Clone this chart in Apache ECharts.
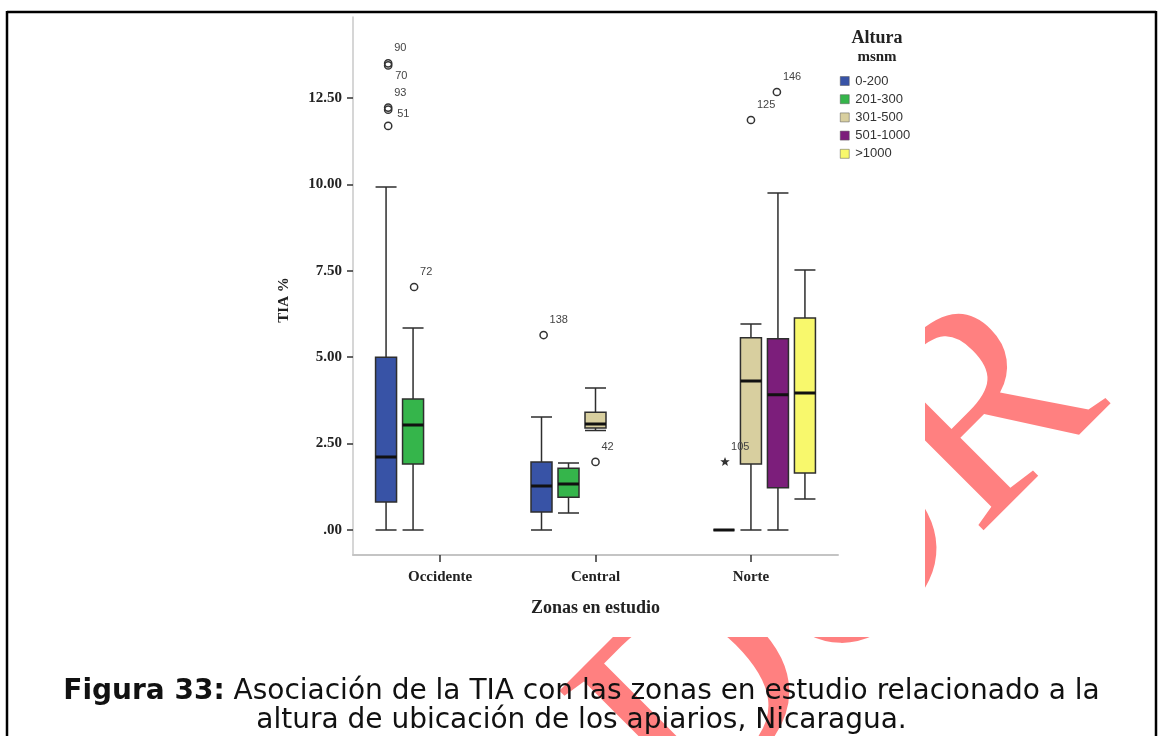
<!DOCTYPE html>
<html>
<head>
<meta charset="utf-8">
<script src="https://cdn.jsdelivr.net/npm/echarts@6/dist/echarts.min.js"></script>
<style>
html,body{margin:0;padding:0;background:#fff;}
#chart{width:1163px;height:736px;}
</style>
</head>
<body>
<div id="chart"></div>
<script>
// ---- data ----
const categories = ['Occidente', 'Central', 'Norte'];
const groupNames = ['0-200', '201-300', '301-500', '501-1000', '>1000'];
// [min, Q1, median, Q3, max] per zone (null = no box)
const box0_200    = [[0, 0.81, 2.11, 5.00, 9.92], [0, 0.52, 1.27, 1.97, 3.27], null];
const box201_300  = [[0, 1.91, 3.04, 3.79, 5.84], [0.49, 0.95, 1.33, 1.79, 1.94], [0, 0, 0, 0, 0]];
const box301_500  = [null, [2.88, 2.95, 3.07, 3.41, 4.11], [0, 1.91, 4.31, 5.56, 5.96]];
const box501_1000 = [null, null, [0, 1.22, 3.91, 5.53, 9.75]];
const box1000     = [null, null, [0.90, 1.65, 3.96, 6.13, 7.52]];
// outliers
const outlierZone  = [0, 0, 0, 0, 0, 0, 1, 1, 2, 2, 2];
const outlierGroup = [0, 0, 0, 0, 0, 1, 0, 2, 1, 2, 3];
const outlierValue = [13.50, 13.44, 12.22, 12.16, 11.69, 7.03, 5.64, 1.97, 1.97, 11.86, 12.67];
const outlierLabel = ['90', '70', '93', '51', '', '72', '138', '42', '105', '125', '146'];
const outlierKind  = ['o', 'o', 'o', 'o', 'o', 'o', 'o', 'o', '*', 'o', 'o'];
const yTicks = [0, 2.5, 5, 7.5, 10, 12.5];
const yTickLabels = ['.00', '2.50', '5.00', '7.50', '10.00', '12.50'];
const zoneTicks = [0, 1, 2];

// ---- styling ----
const colors = ['#3853a6', '#35b54b', '#d8cf9f', '#7c1e7b', '#f8f86c'];
const allBoxes = [box0_200, box201_300, box301_500, box501_1000, box1000];
const serif = '"Liberation Serif", "DejaVu Serif", serif';
const sans = '"Liberation Sans", Arial, sans-serif';
const labelPlace = { '70': 'below', '51': 'right' };

function toItems(arr, pick) {
  const out = [];
  arr.forEach((b, i) => { if (b) out.push([i].concat(pick ? pick(b) : b)); });
  return out;
}

const series = [];
allBoxes.forEach((arr, k) => {
  series.push({
    name: groupNames[k],
    type: 'boxplot',
    xAxisIndex: 0, yAxisIndex: 0,
    boxWidth: [21, 21],
    data: toItems(arr),
    itemStyle: { color: colors[k], borderColor: '#2e2e2e', borderWidth: 1.5 },
    emphasis: { disabled: true },
    z: 2
  });
});
// median overlays (thick black median lines) on a twin axis so slot layout is identical
allBoxes.forEach((arr, k) => {
  series.push({
    name: 'med' + k,
    type: 'boxplot',
    xAxisIndex: 1, yAxisIndex: 0,
    boxWidth: [21, 21],
    data: toItems(arr, b => [b[2], b[2], b[2], b[2], b[2]]),
    itemStyle: { color: 'rgba(0,0,0,0)', borderColor: '#111', borderWidth: 3 },
    emphasis: { disabled: true },
    z: 3
  });
});
// outliers, positioned in the same slot as their box
const outlierData = outlierValue.map((v, i) => [outlierZone[i], outlierGroup[i], v]);
series.push({
  type: 'custom',
  xAxisIndex: 0, yAxisIndex: 0,
  dimensions: ['zone', 'slot', 'value'],
  encode: { x: 0, y: 2 },
  data: outlierData,
  z: 4,
  renderItem: function (params, api) {
    const zone = api.value(0), slot = api.value(1), v = api.value(2);
    const bw = api.size([1, 0])[0];
    const aw = bw * 0.8 - 2;
    const gap = aw / 5 * 0.3;
    const w = (aw - gap * 4) / 5;
    const off = w / 2 - aw / 2 + slot * (gap + w);
    const p = api.coord([zone, v]);
    const cx = p[0] + off, cy = p[1];
    const i = params.dataIndex;
    const children = [];
    if (outlierKind[i] === '*') {
      const pts = [];
      for (let j = 0; j < 10; j++) {
        const r = j % 2 === 0 ? 5 : 2.1;
        const a = -Math.PI / 2 + j * Math.PI / 5;
        pts.push([cx + r * Math.cos(a), cy + r * Math.sin(a)]);
      }
      children.push({ type: 'polygon', shape: { points: pts }, style: { fill: '#333' } });
    } else {
      children.push({ type: 'circle', shape: { cx: cx, cy: cy, r: 3.6 }, style: { fill: 'none', stroke: '#333', lineWidth: 1.5 } });
    }
    const lab = outlierLabel[i];
    if (lab) {
      let dx = 6, dy = -15;
      if (labelPlace[lab] === 'below') { dx = 7; dy = 11; }
      if (labelPlace[lab] === 'right') { dx = 9; dy = 4; }
      children.push({ type: 'text', x: cx + dx, y: cy + dy,
        style: { text: lab, fill: '#444', font: '11px ' + sans, align: 'left', verticalAlign: 'middle' } });
    }
    return { type: 'group', children: children };
  }
});

const chart = echarts.init(document.getElementById('chart'), null, { renderer: 'canvas' });
chart.setOption({
  animation: false,
  backgroundColor: '#ffffff',
  title: [
    {
      text: '{b|Figura 33:} Asociación de la TIA con las zonas en estudio relacionado a la',
      left: 'center', top: 678, padding: 0,
      textStyle: { fontFamily: '"DejaVu Sans", sans-serif', fontSize: 28, lineHeight: 28, fontWeight: 'normal', color: '#111',
        rich: { b: { fontFamily: '"DejaVu Sans", sans-serif', fontSize: 28, lineHeight: 28, fontWeight: 'bold', color: '#111' } } },
      z: 20
    },
    {
      text: 'altura de ubicación de los apiarios, Nicaragua.',
      left: 'center', top: 707, padding: 0,
      textStyle: { fontFamily: '"DejaVu Sans", sans-serif', fontSize: 28, lineHeight: 28, fontWeight: 'normal', color: '#111' },
      z: 20
    },
    {
      text: 'Altura', left: 877, top: 29, textAlign: 'center', padding: 0,
      textStyle: { fontFamily: serif, fontSize: 18, fontWeight: 'bold', color: '#222' }
    },
    {
      text: 'msnm', left: 877, top: 50, textAlign: 'center', padding: 0,
      textStyle: { fontFamily: serif, fontSize: 15, fontWeight: 'bold', color: '#222' }
    }
  ],
  legend: {
    data: groupNames.map((n, k) => ({ name: n, itemStyle: { color: colors[k], borderColor: '#555', borderWidth: 0.5 } })),
    orient: 'vertical',
    left: 840, top: 74,
    padding: 0,
    itemWidth: 9, itemHeight: 9, itemGap: 4.2,
    icon: 'rect',
    selectedMode: false,
    textStyle: { fontFamily: sans, fontSize: 13, color: '#333', lineHeight: 14, padding: [0, 0, 0, 1] }
  },
  grid: { left: 353, top: 17, width: 485, height: 538 },
  xAxis: [
    {
      type: 'value', min: -0.56, max: 2.56,
      axisLine: { show: true, onZero: false, lineStyle: { color: '#c4c4c4', width: 2 } },
      axisTick: { show: true, customValues: zoneTicks, length: 7, lineStyle: { color: '#333', width: 1.5 } },
      axisLabel: { customValues: zoneTicks, formatter: v => categories[Math.round(v)], margin: 15,
        fontFamily: serif, fontSize: 15, fontWeight: 'bold', color: '#222' },
      splitLine: { show: false },
      name: 'Zonas en estudio', nameLocation: 'middle', nameGap: 44,
      nameTextStyle: { fontFamily: serif, fontSize: 18, fontWeight: 'bold', color: '#222' }
    },
    {
      type: 'value', min: -0.56, max: 2.56, show: false,
      axisLine: { onZero: false }
    }
  ],
  yAxis: {
    type: 'value', min: -0.723, max: 14.84,
    axisLine: { show: true, onZero: false, lineStyle: { color: '#c8c8c8', width: 1.5 } },
    axisTick: { show: true, customValues: yTicks, length: 6, lineStyle: { color: '#333', width: 1.5 } },
    axisLabel: { customValues: yTicks, formatter: v => yTickLabels[yTicks.indexOf(v)], margin: 11,
      fontFamily: serif, fontSize: 15, fontWeight: 'bold', color: '#222' },
    splitLine: { show: false },
    name: 'TIA %', nameLocation: 'middle', nameGap: 61, nameRotate: 90,
    nameTextStyle: { fontFamily: serif, fontSize: 15, fontWeight: 'bold', color: '#222', padding: [0, 28, 0, 0] }
  },
  graphic: [
    { type: 'text', x: 1058, y: 350, rotation: Math.PI / 4, z: -10, silent: true,
      style: { text: 'BORRADOR', font: '285px "Liberation Serif", serif', fill: '#ff8080', align: 'right', verticalAlign: 'middle' } },
    { type: 'rect', shape: { x: 265, y: 14, width: 660, height: 623 }, style: { fill: '#ffffff' }, z: -9, silent: true },
    { type: 'line', shape: { x1: 7, y1: 12, x2: 1156, y2: 12 }, style: { stroke: '#000', lineWidth: 2.5 }, z: 30, silent: true },
    { type: 'line', shape: { x1: 7, y1: 11, x2: 7, y2: 736 }, style: { stroke: '#000', lineWidth: 2.5 }, z: 30, silent: true },
    { type: 'line', shape: { x1: 1156, y1: 11, x2: 1156, y2: 736 }, style: { stroke: '#000', lineWidth: 2.5 }, z: 30, silent: true }
  ],
  series: series
});
</script>
</body>
</html>
